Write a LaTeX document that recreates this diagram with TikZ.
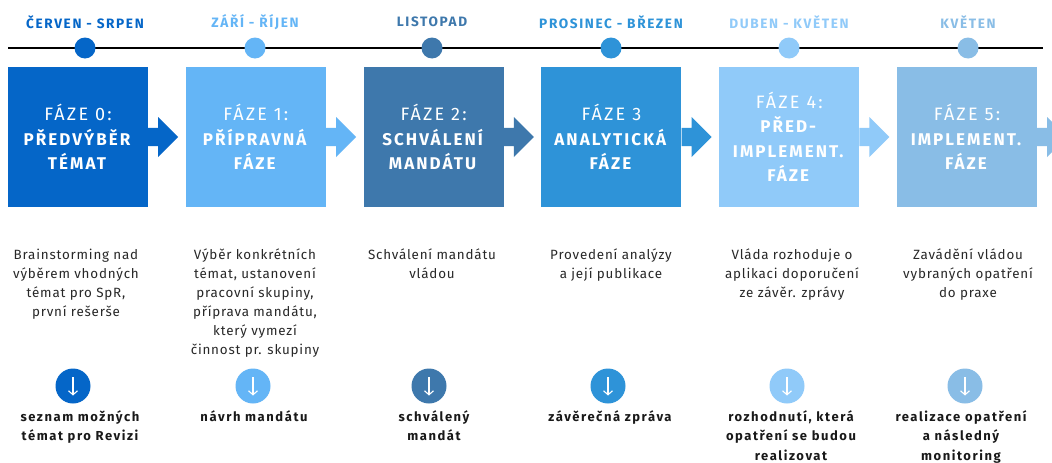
\documentclass[tikz,border=0pt]{standalone}
\usepackage{fontspec}
\setmainfont{Fira Sans}
\newfontfamily\lsA[LetterSpace=12]{Fira Sans}
\newfontfamily\lsB[LetterSpace=6]{Fira Sans}
\usetikzlibrary{arrows.meta}
\definecolor{c0}{RGB}{5,102,200}
\definecolor{c1}{RGB}{100,181,246}
\definecolor{c2}{RGB}{62,120,172}
\definecolor{c3}{RGB}{46,147,216}
\definecolor{c4}{RGB}{144,202,249}
\definecolor{c5}{RGB}{137,189,230}
\definecolor{txt}{RGB}{40,40,40}
\definecolor{txtb}{RGB}{25,25,25}
\newcommand{\lite}[1]{{\fontsize{18}{24.5}\selectfont #1}}
\begin{document}
\begin{tikzpicture}[x=1pt,y=1pt,
  phase/.style={fill=#1, minimum width=140pt, minimum height=140pt, inner sep=0pt, text=white, align=center, font=\lsA\fontsize{17}{24.5}\selectfont},
  month/.style={text=#1, inner sep=0pt, font=\lsA\bfseries\fontsize{13.6}{15}\selectfont},
  tdot/.style={circle, fill=#1, minimum size=21pt, inner sep=0pt},
  desc/.style={align=center, text=txt, inner sep=0pt, anchor=north, font=\lsB\fontsize{13.4}{19}\selectfont},
  outc/.style={align=center, text=txtb, inner sep=0pt, anchor=north, font=\lsA\bfseries\fontsize{13}{19.5}\selectfont},
  odot/.style={circle, fill=#1, minimum size=35pt, inner sep=0pt},
  chev/.style={fill=#1},
  dn/.style={draw=white, line width=1.1pt, -{Straight Barb[length=4pt,width=9pt,line width=1.1pt]}}
]
\useasboundingbox (0,0) rectangle (1052,-463);
\fill[white] (0,0) rectangle (1052,-463);

% timeline
\coordinate (tl) at (8,-48);
\coordinate (tr) at (1043,-48);
\draw[line width=1.1pt, black] (tl) -- (tr);

% month labels and dots
\node[month=c0] (m0) at (85,-22) {ČERVEN - SRPEN};
\node[month=c1] (m1) at (255,-22) {ZÁŘÍ - ŘÍJEN};
\node[month=c2] (m2) at (432,-22) {LISTOPAD};
\node[month=c3] (m3) at (611,-22) {PROSINEC - BŘEZEN};
\node[month=c4] (m4) at (789,-22) {DUBEN - KVĚTEN};
\node[month=c5] (m5) at (968,-22) {KVĚTEN};
\node[tdot=c0] (d0) at (85,-48) {};
\node[tdot=c1] (d1) at (255,-48) {};
\node[tdot=c2] (d2) at (432,-48) {};
\node[tdot=c3] (d3) at (611,-48) {};
\node[tdot=c4] (d4) at (789,-48) {};
\node[tdot=c5] (d5) at (968,-48) {};

% phases
\node[phase=c0] (p0) at (78,-137) {\lite{FÁZE 0:}\\\textbf{PŘEDVÝBĚR}\\\textbf{TÉMAT}};
\node[phase=c1] (p1) at (255.8,-137) {\lite{FÁZE 1:}\\\textbf{PŘÍPRAVNÁ}\\\textbf{FÁZE}};
\node[phase=c2] (p2) at (433.6,-137) {\lite{FÁZE 2:}\\\textbf{SCHVÁLENÍ}\\\textbf{MANDÁTU}};
\node[phase=c3] (p3) at (611.4,-137) {\lite{FÁZE 3}\\\textbf{ANALYTICKÁ}\\\textbf{FÁZE}};
\node[phase=c4] (p4) at (789.2,-137) {\lite{FÁZE 4:}\\\textbf{PŘED-}\\\textbf{IMPLEMENT.}\\\textbf{FÁZE}};
\node[phase=c5] (p5) at (967,-137) {\lite{FÁZE 5:}\\\textbf{IMPLEMENT.}\\\textbf{FÁZE}};

% chevrons
\foreach \i in {0,...,5}{
  \fill[chev=c\i] ([yshift=9.2]p\i.east) -- ++(10,0) -- ++(0,10.8) -- ([xshift=30]p\i.east) -- ++(-20,-20) -- ++(0,10.8) -- ([yshift=-9.2]p\i.east) -- cycle;
}

% descriptions
\node[desc] (t0) at (76,-249) {Brainstorming nad\\výběrem vhodných\\témat pro SpR,\\první rešerše};
\node[desc] (t1) at (255,-249) {Výběr konkrétních\\témat, ustanovení\\pracovní skupiny,\\příprava mandátu,\\který vymezí\\činnost pr. skupiny};
\node[desc] (t2) at (432,-249) {Schválení mandátu\\vládou};
\node[desc] (t3) at (611,-249) {Provedení analýzy\\a její publikace};
\node[desc] (t4) at (792,-249) {Vláda rozhoduje o\\aplikaci doporučení\\ze závěr. zprávy};
\node[desc] (t5) at (968,-249) {Zavádění vládou\\vybraných opatření\\do praxe};

% outcome icons
\node[odot=c0] (o0) at (73,-386) {};
\node[odot=c1] (o1) at (253,-386) {};
\node[odot=c2] (o2) at (429,-386) {};
\node[odot=c3] (o3) at (608,-386) {};
\node[odot=c4] (o4) at (787,-386) {};
\node[odot=c5] (o5) at (965,-386) {};
\foreach \i in {0,...,5}{
  \coordinate (a\i) at ([yshift=9]o\i.center);
  \coordinate (b\i) at ([yshift=-9.5]o\i.center);
  \draw[dn] (a\i) -- (b\i);
}

% outcomes
\node[outc] (r0) at (80,-410) {seznam možných\\témat pro Revizi};
\node[outc] (r1) at (254,-410) {návrh mandátu};
\node[outc] (r2) at (434,-410) {schválený\\mandát};
\node[outc] (r3) at (610,-410) {závěrečná zpráva};
\node[outc] (r4) at (791,-410) {rozhodnutí, která\\opatření se budou\\realizovat};
\node[outc] (r5) at (961,-410) {realizace opatření\\a následný\\monitoring};
\end{tikzpicture}
\end{document}
